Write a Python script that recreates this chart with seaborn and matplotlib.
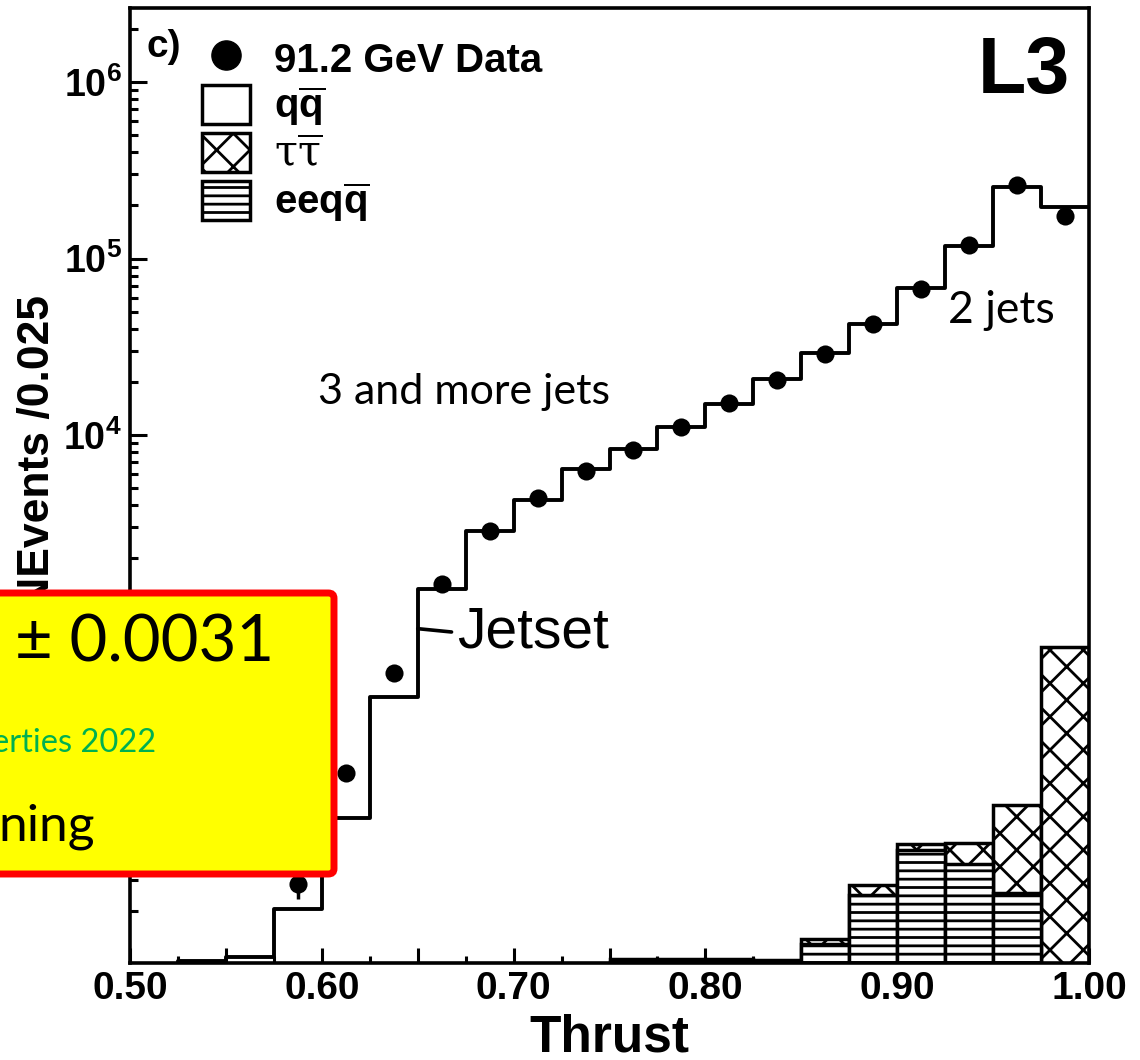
import numpy as np
import pandas as pd
import matplotlib
matplotlib.use("Agg")
import matplotlib.pyplot as plt
import seaborn as sns
from matplotlib.ticker import LogLocator, FuncFormatter, MultipleLocator, NullFormatter
from matplotlib.patches import FancyBboxPatch, Patch
from matplotlib.lines import Line2D

# ---------------- data ----------------
thrust_edges = [0.500, 0.525, 0.550, 0.575, 0.600, 0.625, 0.650, 0.675, 0.700, 0.725,
                0.750, 0.775, 0.800, 0.825, 0.850, 0.875, 0.900, 0.925, 0.950, 0.975, 1.000]
bin_centers = [0.5125, 0.5375, 0.5625, 0.5875, 0.6125, 0.6375, 0.6625, 0.6875, 0.7125, 0.7375,
               0.7625, 0.7875, 0.8125, 0.8375, 0.8625, 0.8875, 0.9125, 0.9375, 0.9625, 0.9875]
# Jetset q-qbar (total MC) histogram
mc_total = [0, 10.5, 11, 20.5, 67.7, 329, 1334, 2850, 4300, 6410,
            8320, 11100, 15000, 20800, 29300, 42700, 68400, 118600, 253000, 195000]
# 91.2 GeV data points
data_x = [0.5875, 0.6125, 0.6375, 0.6625, 0.6875, 0.7125, 0.7375, 0.7625, 0.7875, 0.8125,
          0.8375, 0.8625, 0.8875, 0.9125, 0.9375, 0.9625, 0.9875]
data_y = [28.5, 122, 450, 1440, 2850, 4390, 6240, 8220, 11100, 15200,
          20500, 28800, 42700, 67600, 120000, 260000, 175000]
data_err = [5, 11, 0, 0, 0, 0, 0, 0, 0, 0, 0, 0, 0, 0, 0, 0, 0]
# backgrounds
bg_centers = [0.7625, 0.7875, 0.8125, 0.8375, 0.8625, 0.8875, 0.9125, 0.9375, 0.9625, 0.9875]
tautau = [0.5, 0.5, 0.4, 0.4, 0.8, 3.4, 3.5, 11.5, 54.7, 632]
eeqq = [10.3, 10.3, 10.4, 10.2, 13.1, 24.7, 44.5, 37.0, 25.3, 0]

x_tick_values = [0.50, 0.60, 0.70, 0.80, 0.90, 1.00]

# ---------------- style ----------------
sns.set_theme(style="ticks")
plt.rcParams["font.family"] = ["Liberation Sans", "DejaVu Sans"]
plt.rcParams["text.color"] = "black"
plt.rcParams["axes.labelcolor"] = "black"
plt.rcParams["xtick.color"] = "black"
plt.rcParams["ytick.color"] = "black"
plt.rcParams["mathtext.fontset"] = "custom"
plt.rcParams["mathtext.rm"] = "Liberation Sans"
plt.rcParams["mathtext.bf"] = "Liberation Sans:bold"
plt.rcParams["mathtext.it"] = "Liberation Sans:italic"
plt.rcParams["hatch.linewidth"] = 2.0
plt.rcParams["hatch.color"] = "black"

W, H = 1140, 1060
fig = plt.figure(figsize=(W / 100, H / 100), dpi=100)
ax = fig.add_axes([130 / W, 1 - 963 / H, (1089 - 130) / W, (963 - 8) / H])

df_mc = pd.DataFrame({"thrust": bin_centers, "n": mc_total})
df_bg = pd.DataFrame({"thrust": bg_centers,
                      "tot": np.array(tautau) + np.array(eeqq),
                      "ee": eeqq})
df_data = pd.DataFrame({"thrust": data_x, "n": data_y, "err": data_err})

ax.set_yscale("log")

# tau tau (stacked on eeqq) - cross hatched
sns.histplot(data=df_bg, x="thrust", weights="tot", bins=thrust_edges, element="bars",
             fill=True, facecolor="white", edgecolor="black", hatch="x", linewidth=2.5,
             alpha=1, ax=ax, zorder=1)
# eeqq - horizontal hatched
sns.histplot(data=df_bg, x="thrust", weights="ee", bins=thrust_edges, element="bars",
             fill=True, facecolor="white", edgecolor="black", hatch="--", linewidth=2.5,
             alpha=1, ax=ax, zorder=2)
# Jetset total
sns.histplot(data=df_mc, x="thrust", weights="n", bins=thrust_edges, element="step",
             fill=False, color="black", linewidth=2.8, ax=ax, zorder=3)
# data
ax.errorbar(df_data["thrust"], df_data["n"], yerr=df_data["err"], fmt="none",
            ecolor="black", elinewidth=2.5, capsize=0, zorder=4)
sns.scatterplot(data=df_data, x="thrust", y="n", color="black", s=170, edgecolor="black",
                linewidth=0, ax=ax, zorder=5)

ax.set_xlim(0.5, 1.0)
ax.set_ylim(10.2, 2.63e6)

# ticks
ax.xaxis.set_major_locator(MultipleLocator(0.05))
ax.xaxis.set_minor_locator(MultipleLocator(0.025))
ax.xaxis.set_major_formatter(FuncFormatter(
    lambda v, p: f"{v:.2f}" if any(abs(v - t) < 1e-6 for t in x_tick_values) else ""))
ax.yaxis.set_major_locator(LogLocator(base=10))
ax.yaxis.set_minor_locator(LogLocator(base=10, subs=np.arange(2, 10)))
ax.yaxis.set_minor_formatter(NullFormatter())
ax.yaxis.set_major_formatter(FuncFormatter(
    lambda v, p: (r"$\mathbf{10^{%d}}$" % int(round(np.log10(v)))) if v > 11 else ""))
ax.tick_params(axis="both", which="both", direction="in", top=False, right=False,
               width=2.2, colors="black")
ax.tick_params(axis="x", which="major", length=11, pad=6, labelsize=28)
ax.tick_params(axis="x", which="minor", length=5)
ax.tick_params(axis="y", which="major", length=12, pad=6, labelsize=27)
ax.tick_params(axis="y", which="minor", length=6)
for lab in ax.get_xticklabels() + ax.get_yticklabels():
    lab.set_fontweight("bold")
for s in ax.spines.values():
    s.set_linewidth(2.6)
    s.set_color("black")

ax.set_xlabel("")
ax.set_ylabel("")
fig.text(609.5 / W, 1 - 1051 / H, "Thrust", fontsize=37, fontweight="bold",
         ha="center", va="baseline")
fig.text(38 / W, 1 - 452 / H, "NEvents /0.025", rotation=90, ha="center", va="center",
         fontsize=32, fontweight="bold")

# annotations
ax.text(0.0177, 0.949, "c)", transform=ax.transAxes, fontsize=28, fontweight="bold",
        ha="left", va="baseline")
ax.text(0.980, 0.911, "L3", transform=ax.transAxes, fontsize=57, fontweight="bold",
        ha="right", va="baseline")
ax.text(0.5979, 15000, "3 and more jets", fontsize=31, family="Lato", ha="left",
        va="baseline", color="black")
ax.text(0.9266, 43300, "2 jets", fontsize=32, family="Lato", ha="left", va="baseline",
        color="black")
ax.annotate("Jetset", xy=(0.65, 800), xytext=(0.6708, 760), fontsize=41,
            ha="left", va="center", color="black",
            arrowprops=dict(arrowstyle="-", lw=2.6, color="black", relpos=(0, 0.5),
                            shrinkA=2, shrinkB=0))

# legend
handles = [
    Line2D([], [], marker="o", ls="none", color="black", markersize=21),
    Patch(facecolor="white", edgecolor="black", linewidth=2.5),
    Patch(facecolor="white", edgecolor="black", hatch="x", linewidth=2.5),
    Patch(facecolor="white", edgecolor="black", hatch="--", linewidth=2.5),
]
labels = ["91.2 GeV Data", r"$\mathbf{q\overline{q}}$", r"$\mathrm{\tau\overline{\tau}}$",
          r"$\mathbf{eeq\overline{q}}$"]
leg = ax.legend(handles, labels, loc="upper left", bbox_to_anchor=(0.075, 0.968),
                frameon=False, borderpad=0, borderaxespad=0, handlelength=1.2,
                handleheight=1.1, handletextpad=0.6, labelspacing=0.12,
                prop={"size": 29, "weight": "bold"})
for t in leg.get_texts():
    t.set_color("black")
leg.get_texts()[2].set_math_fontfamily("dejavuserif")
leg.get_texts()[2].set_fontweight("normal")
leg.get_texts()[2].set_fontsize(30)

# yellow overlay box
box = FancyBboxPatch((-10 / W, 1 - 874 / H), (334 + 10) / W, (874 - 593) / H,
                     boxstyle="round,pad=0,rounding_size=0.005", transform=fig.transFigure,
                     facecolor="#FFFF00", edgecolor="#FF0000", linewidth=5, zorder=10)
fig.add_artist(box)
fig.text(15 / W, 1 - 662 / H, "± 0.0031", fontsize=47, family="Lato", ha="left",
         va="baseline", zorder=11, color="black")
fig.text(-8 / W, 1 - 752 / H, "erties 2022", fontsize=23.5, family="Lato", color="#00B050",
         ha="left", va="baseline", zorder=11)
fig.text(-2 / W, 1 - 840 / H, "ning", fontsize=37, family="Lato", ha="left",
         va="baseline", zorder=11, color="black")

fig.savefig("out.png", dpi=100)
